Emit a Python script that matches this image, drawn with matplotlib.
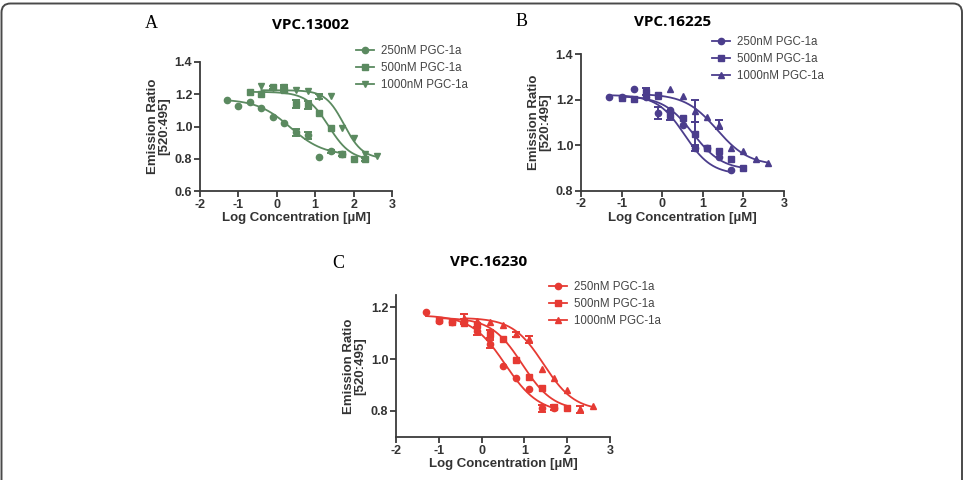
import numpy as np
import matplotlib
matplotlib.use("Agg")
import matplotlib.pyplot as plt
from matplotlib.patches import FancyBboxPatch
from matplotlib.transforms import IdentityTransform

plt.rcParams['font.family'] = ['Liberation Sans', 'DejaVu Sans']

# ---------------- data ----------------
labels = ["250nM PGC-1a", "500nM PGC-1a", "1000nM PGC-1a"]
xticks = [-2, -1, 0, 1, 2, 3]

# Panel A  (VPC.13002)
A_250_x = [-1.3, -1.0, -0.7, -0.4, -0.1, 0.2, 0.5, 0.8, 1.1, 1.4, 1.7]
A_250_y = [1.165, 1.128, 1.155, 1.115, 1.061, 1.024, 0.964, 0.945, 0.808, 0.845, 0.829]
A_250_e = [0, 0, 0, 0, 0, 0, 0.02, 0.02, 0, 0.01, 0]
A_500_x = [-0.7, -0.4, -0.1, 0.2, 0.5, 0.8, 1.1, 1.4, 1.7, 2.0, 2.3]
A_500_y = [1.213, 1.202, 1.242, 1.227, 1.138, 1.134, 1.086, 0.989, 0.83, 0.797, 0.797]
A_500_e = [0, 0, 0.01, 0.015, 0.025, 0.025, 0, 0, 0.01, 0, 0.01]
A_1000_x = [-0.4, -0.1, 0.2, 0.5, 0.8, 1.1, 1.4, 1.7, 2.0, 2.3, 2.6]
A_1000_y = [1.252, 1.24, 1.245, 1.227, 1.22, 1.186, 1.192, 0.993, 0.926, 0.829, 0.818]
A_1000_e = [0, 0, 0.01, 0, 0, 0.015, 0, 0, 0, 0, 0]
# fitted curve params: top, bottom, logIC50, hill
A_fit = [(1.17, 0.82, 0.35, 1.0), (1.215, 0.79, 1.35, 1.5), (1.225, 0.80, 1.75, 1.8)]

# Panel B  (VPC.16225)
B_250_x = [-1.3, -1.0, -0.7, -0.4, -0.1, 0.2, 0.5, 0.8, 1.1, 1.4, 1.7]
B_250_y = [1.209, 1.21, 1.246, 1.213, 1.14, 1.154, 1.088, 0.985, 0.988, 0.948, 0.89]
B_250_e = [0, 0, 0, 0, 0.025, 0, 0, 0.01, 0, 0, 0]
B_500_x = [-1.0, -0.7, -0.4, -0.1, 0.2, 0.5, 0.8, 1.1, 1.4, 1.7, 2.0]
B_500_y = [1.205, 1.203, 1.235, 1.22, 1.13, 1.12, 1.05, 0.985, 0.975, 0.94, 0.90]
B_500_e = [0, 0, 0.015, 0, 0.02, 0, 0.05, 0, 0, 0, 0]
B_1000_x = [-0.4, -0.1, 0.2, 0.5, 0.8, 1.1, 1.4, 1.7, 2.0, 2.3, 2.6]
B_1000_y = [1.22, 1.215, 1.246, 1.216, 1.15, 1.122, 1.09, 0.985, 0.975, 0.938, 0.922]
B_1000_e = [0, 0, 0, 0, 0.05, 0, 0.02, 0, 0, 0, 0]
B_fit = [(1.22, 0.87, 0.55, 1.3), (1.215, 0.89, 0.75, 1.2), (1.225, 0.91, 1.35, 1.1)]

# Panel C  (VPC.16230)
C_250_x = [-1.3, -1.0, -0.7, -0.4, -0.1, 0.2, 0.5, 0.8, 1.1, 1.4, 1.7]
C_250_y = [1.183, 1.147, 1.144, 1.147, 1.108, 1.058, 0.974, 0.925, 0.884, 0.809, 0.809]
C_250_e = [0, 0, 0, 0.01, 0.015, 0.015, 0, 0, 0, 0.015, 0]
C_500_x = [-1.0, -0.7, -0.4, -0.1, 0.2, 0.5, 0.8, 1.1, 1.4, 1.7, 2.0]
C_500_y = [1.15, 1.145, 1.14, 1.131, 1.096, 1.076, 0.996, 0.932, 0.887, 0.813, 0.812]
C_500_e = [0, 0, 0, 0, 0.015, 0, 0, 0, 0, 0.01, 0]
C_1000_x = [-0.4, -0.1, 0.2, 0.5, 0.8, 1.1, 1.4, 1.7, 2.0, 2.3, 2.6]
C_1000_y = [1.16, 1.147, 1.144, 1.131, 1.096, 1.076, 0.961, 0.925, 0.88, 0.805, 0.819]
C_1000_e = [0.015, 0, 0, 0, 0.01, 0.015, 0, 0, 0, 0.015, 0]
C_fit = [(1.17, 0.79, 0.55, 1.1), (1.16, 0.80, 0.95, 1.2), (1.16, 0.80, 1.45, 1.2)]


def logistic(x, top, bottom, ic, hill):
    return bottom + (top - bottom) / (1 + 10 ** ((x - ic) * hill))


W, H = 965, 480
fig = plt.figure(figsize=(W / 100, H / 100), dpi=100)

# outer frame with rounded top corners
frame = FancyBboxPatch((1.5, -30), 960.5, 30 + H - 3.5,
                       boxstyle="round,pad=0,rounding_size=9",
                       fill=False, ec='#4a4a4a', lw=1.4,
                       transform=IdentityTransform())
fig.add_artist(frame)


def px_axes(l, t, r, b):
    return fig.add_axes([l / W, 1 - b / H, (r - l) / W, (b - t) / H])


panels = [
    dict(rect=(200, 62, 392, 191), ylim=(0.6, 1.4), yticks=[0.6, 0.8, 1.0, 1.2, 1.4],
         color='#5b8a60', markers=['o', 's', 'v'], title='VPC.13002', letter='A',
         letter_xy=(151, 24), title_xy=(311, 25),
         series=[(A_250_x, A_250_y, A_250_e), (A_500_x, A_500_y, A_500_e), (A_1000_x, A_1000_y, A_1000_e)],
         fit=A_fit, leg=(356, 45)),
    dict(rect=(581, 54, 784, 190.5), ylim=(0.8, 1.4), yticks=[0.8, 1.0, 1.2, 1.4],
         color='#4b3d8c', markers=['o', 's', '^'], title='VPC.16225', letter='B',
         letter_xy=(522, 22), title_xy=(673, 22),
         series=[(B_250_x, B_250_y, B_250_e), (B_500_x, B_500_y, B_500_e), (B_1000_x, B_1000_y, B_1000_e)],
         fit=B_fit, leg=(712, 36)),
    dict(rect=(396, 295, 610, 437.3), ylim=(0.697, 1.248), yticks=[0.8, 1.0, 1.2],
         color='#e63a33', markers=['o', 's', '^'], title='VPC.16230', letter='C',
         letter_xy=(338, 263), title_xy=(489, 262),
         series=[(C_250_x, C_250_y, C_250_e), (C_500_x, C_500_y, C_500_e), (C_1000_x, C_1000_y, C_1000_e)],
         fit=C_fit, leg=(549, 281)),
]

for p in panels:
    ax = px_axes(*p['rect'])
    c = p['color']
    handles = []
    for (xs, ys, es), m, f, lab in zip(p['series'], p['markers'], p['fit'], labels):
        xs = np.array(xs); ys = np.array(ys); es = np.array(es)
        xx = np.linspace(xs.min(), xs.max(), 200)
        ax.plot(xx, logistic(xx, *f), color=c, lw=1.3, zorder=2)
        mask = es > 0
        ax.errorbar(xs[mask], ys[mask], yerr=es[mask], fmt='none', ecolor=c,
                    elinewidth=1.4, capsize=3, capthick=1.4, zorder=3)
        ax.plot(xs, ys, linestyle='none', marker=m, color=c, ms=4.5, zorder=4)
        h, = ax.plot([], [], color=c, marker=m, ms=4.5, lw=1.3, label=lab)
        handles.append(h)
    ax.set_xlim(-2, 3)
    ax.set_ylim(*p['ylim'])
    ax.set_xticks(xticks)
    ax.set_xticklabels([str(t) for t in xticks])
    ax.set_yticks(p['yticks'])
    ax.set_yticklabels([f"{t:.1f}" for t in p['yticks']])
    for s in ['top', 'right']:
        ax.spines[s].set_visible(False)
    for s in ['left', 'bottom']:
        ax.spines[s].set_color('#3a3a3a')
        ax.spines[s].set_linewidth(1.3)
    ax.tick_params(direction='out', length=4, width=1.3, color='#3a3a3a',
                   labelsize=9, pad=1.5)
    for lab in ax.get_xticklabels() + ax.get_yticklabels():
        lab.set_fontweight('bold')
        lab.set_color('#333333')
    ax.set_xlabel('Log Concentration [\u00b5M]', fontsize=9.5, fontweight='bold',
                  color='#333333', labelpad=1)
    ax.set_ylabel('Emission Ratio\n[520:495]', fontsize=9.5, fontweight='bold',
                  color='#333333', labelpad=3, linespacing=1.0)
    lx, ly = p['leg']
    fig.legend(handles=handles, loc='upper left',
               bbox_to_anchor=(lx / W, 1 - ly / H), frameon=False,
               fontsize=8.3, handlelength=1.6, handletextpad=0.6,
               labelspacing=0.45, borderaxespad=0, borderpad=0,
               labelcolor='#444444')
    fig.text(p['letter_xy'][0] / W, 1 - p['letter_xy'][1] / H, p['letter'],
             family=['Liberation Serif'], fontsize=13, ha='center', va='center')
    fig.text(p['title_xy'][0] / W, 1 - p['title_xy'][1] / H, p['title'],
             family=['Open Sans', 'DejaVu Sans'], fontweight='bold', fontsize=11,
             ha='center', va='center')

fig.savefig('out.png', dpi=100)
